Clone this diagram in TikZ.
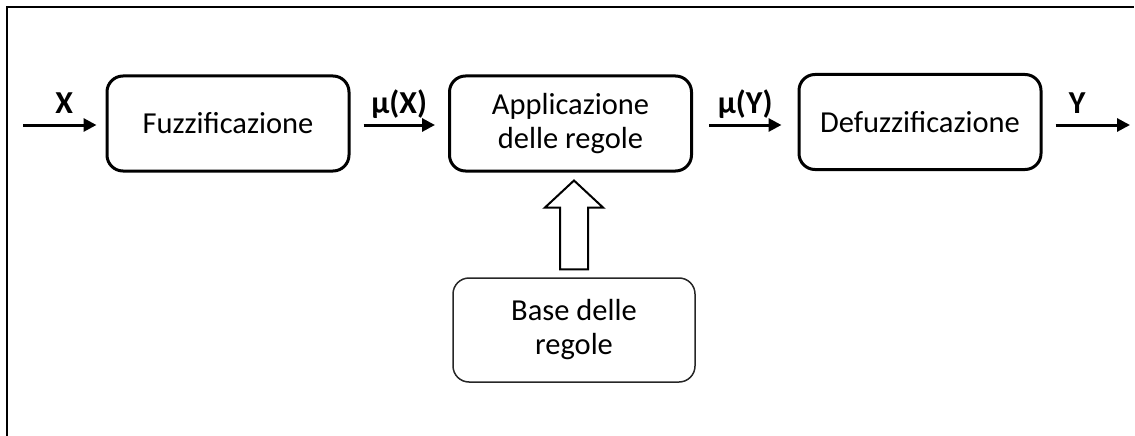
\documentclass[tikz,border=0pt]{standalone}
\usepackage{fontspec}
\setmainfont{Carlito}
\usetikzlibrary{arrows.meta,calc}

\tikzset{
  block/.style={draw=black, line width=3pt, rounded corners=16pt,
    minimum width=242pt, minimum height=95pt, align=center,
    font=\fontsize{30.5}{34}\selectfont, inner sep=0pt},
  sourcebox/.style={draw=black!85, line width=1.5pt, rounded corners=16pt,
    minimum width=242pt, minimum height=104pt, align=center,
    font=\fontsize{30.5}{34}\selectfont, inner sep=0pt},
  flow/.style={line width=3pt, -{Triangle[length=13pt,width=13pt]}},
  sig/.style={font=\fontsize{32}{34}\selectfont\bfseries, anchor=base, yshift=12pt},
  hollow/.style={draw=black, line width=2pt, fill=white, line join=miter},
  frame/.style={line width=2pt, black}
}

\begin{document}
\begin{tikzpicture}[x=1pt, y=-1pt]
  \useasboundingbox (0,0) rectangle (1135,436);

  % open frame: top and left edges
  \draw[frame] (7,436) -- (7,7) -- (1134,7);

  % processing chain
  \node[block] (fuzz)  at (228,123.5)   {Fuzzificazione};
  \node[block] (app)   at (570.5,123.5) {Applicazione\\delle regole};
  \node[block] (defuz) at (920,122)     {Defuzzificazione};
  \node[sourcebox] (base) at (574,330)  {Base delle\\regole};

  % input and output ends
  \coordinate (in)  at (23,125);
  \coordinate (out) at (1130,125);

  \draw[flow, shorten >=9pt] (in) -- (in -| fuzz.west)
    node[sig, midway] {X};
  \draw[flow, shorten <=13pt, shorten >=13pt] (fuzz.east |- in) -- (app.west |- in)
    node[sig, midway] {μ(X)};
  \draw[flow, shorten <=16pt, shorten >=16pt] (app.east |- in) -- (defuz.west |- in)
    node[sig, midway] {μ(Y)};
  \draw[flow, shorten <=13pt] (defuz.east |- out) -- (out)
    node[sig, midway, xshift=-9pt] {Y};

  % hollow block arrow from the rule base up to the inference block
  \coordinate (s) at ($(base.north)+(0,-8)$);
  \coordinate (t) at ($(base.north |- app.south)+(0,8)$);
  \coordinate (h) at ($(t)+(0,27)$);
  \draw[hollow] ($(s)+(-14,0)$) -- ($(h)+(-14,0)$) -- ($(h)+(-29,0)$) -- (t)
    -- ($(h)+(29,0)$) -- ($(h)+(14,0)$) -- ($(s)+(14,0)$) -- cycle;
\end{tikzpicture}
\end{document}
